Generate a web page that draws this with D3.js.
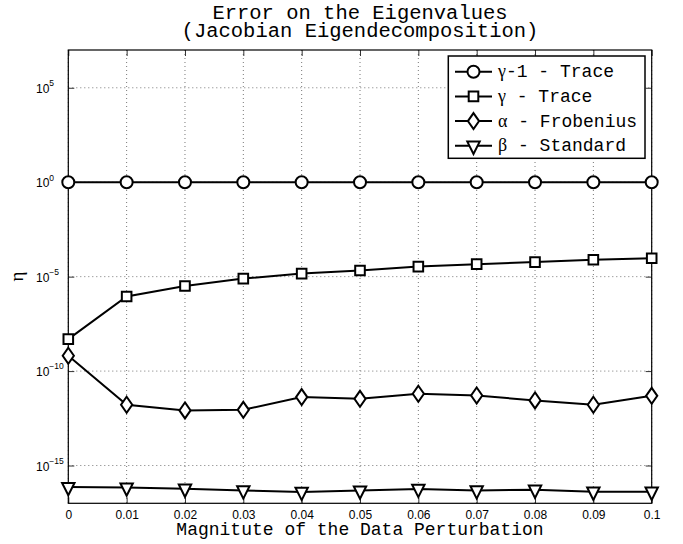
<!DOCTYPE html>
<html>
<head>
<meta charset="utf-8">
<script src="https://cdn.jsdelivr.net/npm/d3@7"></script>
<style>
	body { margin: 0; background: #fff; }
	text { white-space: pre; }
</style>
</head>
<body>
<div class="chart"></div>
<script>
// Data
var perturbation = [0, 0.01, 0.02, 0.03, 0.04, 0.05, 0.06, 0.07, 0.08, 0.09, 0.1];
var gammaMinusOneTrace = [1, 1, 1, 1, 1, 1, 1, 1, 1, 1, 1];
var gammaTrace = [4.9e-9, 8.9e-7, 3.2e-6, 7.9e-6, 1.45e-5, 2.1e-5, 3.4e-5, 4.6e-5, 5.9e-5, 7.9e-5, 9.5e-5];
var alphaFrobenius = [6.5e-10, 1.66e-12, 8.3e-13, 8.9e-13, 4.2e-12, 3.4e-12, 6.3e-12, 5.1e-12, 2.8e-12, 1.66e-12, 4.9e-12];
var betaStandard = [7.2e-17, 6.8e-17, 5.9e-17, 4.8e-17, 4.0e-17, 4.7e-17, 5.8e-17, 4.8e-17, 5.2e-17, 4.1e-17, 4.1e-17];

var yTicks = [1e5, 1e0, 1e-5, 1e-10, 1e-15];
var yTickExponents = ["5", "0", "\u22125", "\u221210", "\u221215"];
var xTickLabels = ["0", "0.01", "0.02", "0.03", "0.04", "0.05", "0.06", "0.07", "0.08", "0.09", "0.1"];

var legendSymbols = ["\u03b3", "\u03b3", "\u03b1", "\u03b2"];
var legendTexts = ["-1 - Trace", " - Trace", " - Frobenius", " - Standard"];
var seriesMarkers = ["circle", "square", "diamond", "triangle"];

var monoFont = "'Courier New', 'Liberation Mono', monospace";
var sansFont = "Helvetica, Arial, 'Liberation Sans', sans-serif";
var serifFont = "'Times New Roman', 'Liberation Serif', 'DejaVu Serif', serif";

var width = 683, height = 544;
// plot area edges (top/left would clash with window globals)
var plotLeft = 68.3, plotRight = 651.7, plotTop = 50, plotBottom = 503.3;

var svg = d3.select('.chart')
	.append('svg')
	.attr('width', width)
	.attr('height', height);

var x = d3.scaleLinear().domain([0, 0.1]).range([plotLeft, plotRight]);
var y = d3.scaleLog().domain([1e-17, 1e7]).range([plotBottom, plotTop]);

// Dotted grid
var grid = svg.append('g').attr('class', 'grid');
grid.selectAll('line.vx')
	.data(perturbation)
	.enter().append('line')
	.attr('class', 'vx')
	.attr('x1', function(d) { return x(d); })
	.attr('x2', function(d) { return x(d); })
	.attr('y1', plotTop)
	.attr('y2', plotBottom);
grid.selectAll('line.hy')
	.data(yTicks)
	.enter().append('line')
	.attr('class', 'hy')
	.attr('x1', plotLeft)
	.attr('x2', plotRight)
	.attr('y1', function(d) { return y(d); })
	.attr('y2', function(d) { return y(d); });
grid.selectAll('line')
	.attr('stroke', '#777')
	.attr('stroke-width', 1)
	.attr('stroke-dasharray', '1,3');

// Axes with inward ticks on all four sides
var xLabelFmt = function(d, i) { return xTickLabels[i]; };
var gBottom = svg.append('g')
	.attr('transform', 'translate(0,' + plotBottom + ')')
	.call(d3.axisBottom(x).tickValues(perturbation).tickSize(-6).tickPadding(7).tickFormat(xLabelFmt));
var gTop = svg.append('g')
	.attr('transform', 'translate(0,' + plotTop + ')')
	.call(d3.axisTop(x).tickValues(perturbation).tickSize(-6).tickFormat(''));
var gLeft = svg.append('g')
	.attr('transform', 'translate(' + plotLeft + ',0)')
	.call(d3.axisLeft(y).tickValues(yTicks).tickSize(-6).tickFormat(''));
var gRight = svg.append('g')
	.attr('transform', 'translate(' + plotRight + ',0)')
	.call(d3.axisRight(y).tickValues(yTicks).tickSize(-6).tickFormat(''));

[gBottom, gTop, gLeft, gRight].forEach(function(g) {
	g.select('.domain').remove();
	g.selectAll('.tick line').attr('stroke', '#333').attr('stroke-width', 1);
});
gBottom.selectAll('.tick text')
	.attr('font-family', sansFont)
	.attr('font-size', 12)
	.attr('fill', '#000');

// Y tick labels with exponents
yTicks.forEach(function(t, i) {
	var label = svg.append('text')
		.attr('x', 36)
		.attr('y', y(t) + 5)
		.attr('font-family', sansFont)
		.attr('font-size', 12)
		.attr('fill', '#000');
	label.append('tspan').text('10');
	label.append('tspan')
		.attr('font-size', 8.5)
		.attr('dy', -6.7)
		.text(yTickExponents[i]);
});

// Box around plot
svg.append('rect')
	.attr('x', plotLeft)
	.attr('y', plotTop)
	.attr('width', plotRight - plotLeft)
	.attr('height', plotBottom - plotTop)
	.attr('fill', 'none')
	.attr('stroke', '#000')
	.attr('stroke-width', 1.2);

// Marker shapes
function markerPath(type) {
	if (type == 'circle') {
		return 'M6,0A6,6 0 1,1 -6,0A6,6 0 1,1 6,0Z';
	}
	else if (type == 'square') {
		return 'M-4.8,-4.8L4.8,-4.8L4.8,4.8L-4.8,4.8Z';
	}
	else if (type == 'diamond') {
		return 'M0,-8L5.6,0L0,8L-5.6,0Z';
	}
	else {
		// downward triangle centred on its centroid
		return 'M-6.2,-4.2L6.2,-4.2L0,8.2Z';
	}
}

var allSeries = [gammaMinusOneTrace, gammaTrace, alphaFrobenius, betaStandard];
var line = d3.line()
	.x(function(d, i) { return x(perturbation[i]); })
	.y(function(d) { return y(d); });

allSeries.forEach(function(series, s) {
	svg.append('path')
		.datum(series)
		.attr('d', line)
		.attr('fill', 'none')
		.attr('stroke', '#000')
		.attr('stroke-width', 2);
});

allSeries.forEach(function(series, s) {
	svg.selectAll('path.m' + s)
		.data(series)
		.enter().append('path')
		.attr('class', 'm' + s)
		.attr('transform', function(d, i) { return 'translate(' + x(perturbation[i]) + ',' + y(d) + ')'; })
		.attr('d', markerPath(seriesMarkers[s]))
		.attr('fill', '#fff')
		.attr('stroke', '#000')
		.attr('stroke-width', 2);
});

// Legend
var legend = svg.append('g').attr('class', 'legend');
legend.append('rect')
	.attr('x', 448.3)
	.attr('y', 56)
	.attr('width', 196.7)
	.attr('height', 102.3)
	.attr('fill', '#fff')
	.attr('stroke', '#000')
	.attr('stroke-width', 1.5);

legendTexts.forEach(function(txt, i) {
	var cy = 71.7 + i * 24.7;
	legend.append('line')
		.attr('x1', 455)
		.attr('x2', 492)
		.attr('y1', cy)
		.attr('y2', cy)
		.attr('stroke', '#000')
		.attr('stroke-width', 2);
	legend.append('path')
		.attr('transform', 'translate(473.5,' + cy + ')')
		.attr('d', markerPath(seriesMarkers[i]))
		.attr('fill', '#fff')
		.attr('stroke', '#000')
		.attr('stroke-width', 2);
	var t = legend.append('text')
		.attr('x', 498)
		.attr('y', cy + 5.5)
		.attr('font-size', 18)
		.attr('fill', '#000');
	t.append('tspan')
		.attr('font-family', serifFont)
		.text(legendSymbols[i]);
	t.append('tspan')
		.attr('font-family', monoFont)
		.text(txt);
});

// Titles and axis labels
var midX = (plotLeft + plotRight) / 2;
svg.append('text')
	.attr('x', midX)
	.attr('y', 19)
	.attr('text-anchor', 'middle')
	.attr('font-family', monoFont)
	.attr('font-size', 20.5)
	.text('Error on the Eigenvalues');
svg.append('text')
	.attr('x', midX)
	.attr('y', 37)
	.attr('text-anchor', 'middle')
	.attr('font-family', monoFont)
	.attr('font-size', 20.5)
	.text('(Jacobian Eigendecomposition)');
svg.append('text')
	.attr('x', midX)
	.attr('y', 535)
	.attr('text-anchor', 'middle')
	.attr('font-family', monoFont)
	.attr('font-size', 18)
	.text('Magnitute of the Data Perturbation');
svg.append('text')
	.attr('transform', 'translate(23,' + ((plotTop + plotBottom) / 2) + ') rotate(-90)')
	.attr('text-anchor', 'middle')
	.attr('font-family', serifFont)
	.attr('font-size', 19)
	.text('\u03b7');
</script>
</body>
</html>
